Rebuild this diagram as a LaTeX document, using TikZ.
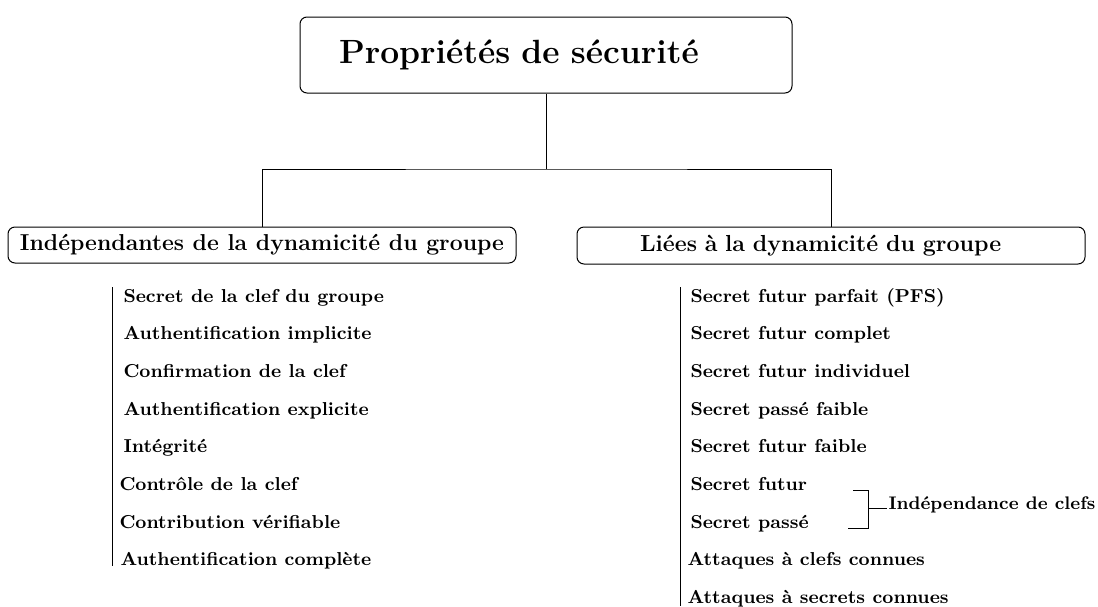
\documentclass[tikz,border=0pt]{standalone}
\usetikzlibrary{calc}
\tikzset{
  boite/.style={draw, rounded corners=3.5pt, inner ysep=0pt},
  prop/.style={anchor=base west, font=\fontsize{9.35}{11}\bfseries\selectfont, inner sep=0pt},
}
\begin{document}
\begin{tikzpicture}[x=0.5pt, y=-0.5pt, line width=0.5pt]
			%%%%% CADRE %%%%%
			\useasboundingbox (0,0) rectangle (1098,606);
			
			\node[boite, minimum height=38pt, inner xsep=19.5pt, text width=207pt, align=left, font=\fontsize{16.8}{20}\bfseries\selectfont] (titre) at (546,55) {Propriétés de sécurité};
			
			\node[boite, minimum width=254pt, minimum height=18pt, inner xsep=0pt, font=\fontsize{11.5}{13}\bfseries\selectfont] (indep) at (262,245) {Indépendantes de la dynamicité du groupe};
			\node[boite, minimum height=18.5pt, inner xsep=31.5pt, text width=191pt, align=left, font=\fontsize{11.6}{13}\bfseries\selectfont] (liees) at (831,245.5) {Liées à la dynamicité du groupe};
			
			\coordinate (hub) at (546,169);
			\draw (titre.south) -- (hub);
			\draw (indep.north) |- (hub) -| (liees.north);
			
			%%%%% LISTE GAUCHE %%%%%
			\draw (112,287) -- (112,566);
			\foreach \x/\txt [count=\i from 0] in {123/Secret de la clef du groupe, 123/Authentification implicite, 123/Confirmation de la clef, 123/Authentification explicite, 123/Intégrité, 119/Contrôle de la clef, 119/Contribution vérifiable, 120/Authentification complète}
				\node[prop] (g\i) at (\x, 302+37.7*\i) {\txt};
			
			%%%%% LISTE DROITE %%%%%
			\draw (680,287) -- (680,606);
			\foreach \x/\txt [count=\i from 0] in {690/Secret futur parfait (PFS), 690/Secret futur complet, 690/Secret futur individuel, 690/Secret passé faible, 690/Secret futur faible, 690/Secret futur, 690/Secret passé, 687/Attaques à clefs connues, 687/Attaques à secrets connues}
				\node[prop] (d\i) at (\x, 302+37.7*\i) {\txt};
			
			%%%%% ACCOLADE %%%%%
			\node[anchor=west, font=\fontsize{9.1}{11}\bfseries\selectfont, inner sep=0.5pt] (indc) at (887,505) {Indépendance de clefs};
			\draw (853,490) -| (868,528) -- (848,528);
			\draw (868,508) -- (indc.west |- 0,508);
			
			%%%%% FIN %%%%%
		\end{tikzpicture}
\end{document}
